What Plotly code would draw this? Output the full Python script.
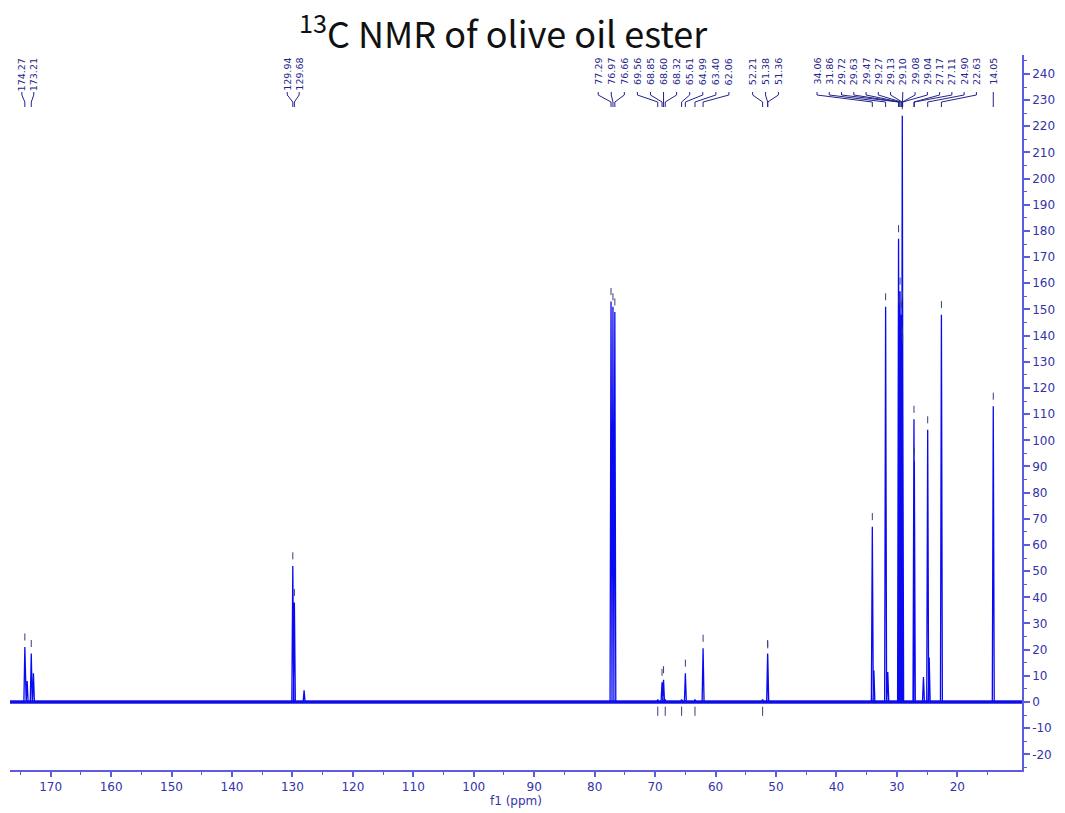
import plotly.graph_objects as go

# ---- peak table (ppm, intensity) ----
picked_ppm = [174.27, 173.21, 129.94, 129.68, 77.29, 76.97, 76.66,
              69.56, 68.85, 68.60, 68.32, 65.61, 64.99, 63.40, 62.06,
              52.21, 51.38, 51.36, 34.06, 31.86, 29.72, 29.63, 29.47,
              29.27, 29.13, 29.10, 29.08, 29.04, 27.17, 27.11, 24.90,
              22.63, 14.05]
picked_height = [21, 18.5, 52, 38, 153, 151, 149,
                 1, 7.5, 8.5, 1, 1, 11, 1, 20.5,
                 1, 18.5, 18, 67, 151, 177, 150, 157,
                 148, 138, 224, 152, 135, 108, 92, 104,
                 148, 113]

# smaller signals that were not picked
extra_ppm = [173.89, 172.85, 128.07, 33.80, 31.50, 25.60, 24.65]
extra_height = [8, 11, 4.5, 12, 11.5, 9.5, 17]

x_tick_values = list(range(20, 171, 10))
x_minor_values = list(range(15, 176, 10))
y_tick_values = list(range(-20, 241, 10))
y_minor_values = list(range(-25, 246, 10))

title_text = "<sup>13</sup>C NMR of olive oil ester"

# ---- page geometry (pixels) ----
W, H = 1065, 813
L, R, T, B = 10, 1032, 55, 770
PX_PER_PPM = 6.104
PX_PER_UNIT = 2.617
X_LEFT = 174.27 + (25 - L) / PX_PER_PPM
X_RIGHT = X_LEFT - (R - L) / PX_PER_PPM
Y0_PX = 702
Y_TOP = (Y0_PX - T) / PX_PER_UNIT
Y_BOT = (Y0_PX - B) / PX_PER_UNIT


def ppm_at(px):
    return X_LEFT - (px - L) / PX_PER_PPM


def val_at(py):
    return (Y0_PX - py) / PX_PER_UNIT


SPEC = "#0a0af0"
AXIS = "#5c5ce0"
TICKTXT = "#3333aa"
LABEL = "#23238a"
MARK = "#3c3c78"

# ---- spectrum drawn as narrow line shapes ----
peaks = sorted(zip(picked_ppm + extra_ppm, picked_height + extra_height),
               key=lambda t: -t[0])
hw = 0.16
sx, sy = [X_LEFT], [0]
for p, h in peaks:
    sx += [p + hw, p, p - hw]
    sy += [0, h, 0]
sx.append(X_RIGHT)
sy.append(0)

fig = go.Figure()

# baseline noise band
fig.add_trace(go.Scatter(x=[X_LEFT, X_RIGHT], y=[0, 0], mode="lines",
                         line=dict(color="#1a1ae0", width=3.5),
                         hoverinfo="skip"))
fig.add_trace(go.Scatter(x=sx, y=sy, mode="lines",
                         line=dict(color=SPEC, width=1.3),
                         hoverinfo="skip"))

# peak-pick markers
mx, my = [], []
for p, h in zip(picked_ppm, picked_height):
    if h >= 3:
        mx += [p, p, None]
        my += [h + 2.5, h + 5.2, None]
    else:
        mx += [p, p, None]
        my += [-1.8, -5.3, None]
fig.add_trace(go.Scatter(x=mx, y=my, mode="lines",
                         line=dict(color=MARK, width=1), hoverinfo="skip"))

# label groups: (first index, count, first label x px, spacing px)
groups = [(0, 2, 22, 12), (2, 2, 290, 12), (4, 11, 604, 13.2),
          (15, 3, 760, 13), (18, 14, 825, 12.38), (32, 1, 1003, 0)]

cx, cy = [], []
annotations = []
y_a, y_b, y_c, y_d = val_at(92), val_at(95), val_at(102), val_at(107)
for start, n, px0, step in groups:
    for k in range(n):
        i = start + k
        lx = ppm_at(px0 + k * step)
        p = picked_ppm[i]
        cx += [lx, lx, p, p, None]
        cy += [y_a, y_b, y_c, y_d, None]
        annotations.append(dict(
            x=lx, y=val_at(57), xref="x", yref="y",
            text=f"{p:.2f}", showarrow=False, textangle=-90,
            xanchor="center", yanchor="top", borderpad=0,
            font=dict(family="DejaVu Sans", size=9.5, color=LABEL)))

fig.add_trace(go.Scatter(x=cx, y=cy, mode="lines",
                         line=dict(color=LABEL, width=1), hoverinfo="skip"))

annotations.append(dict(
    x=(508 - L) / (R - L), y=(B - 31) / (B - T), xref="paper", yref="paper",
    text=title_text, showarrow=False, xanchor="center", yanchor="middle",
    font=dict(family="Noto Sans CJK KR", size=36, color="#111111")))

fig.update_layout(
    width=W, height=H,
    margin=dict(l=L, r=W - R, t=T, b=H - B, pad=0),
    paper_bgcolor="white", plot_bgcolor="white",
    showlegend=False, hovermode=False,
    annotations=annotations,
    xaxis=dict(
        range=[X_LEFT, X_RIGHT], showgrid=False, zeroline=False,
        showline=True, linecolor=AXIS, linewidth=1.5,
        ticks="outside", ticklen=5, tickwidth=1.5, tickcolor=AXIS,
        tickmode="array", tickvals=x_tick_values,
        ticktext=[str(v) for v in x_tick_values],
        tickfont=dict(family="DejaVu Sans", size=12, color=TICKTXT),
        minor=dict(tickvals=x_minor_values, ticks="outside", ticklen=3,
                   tickcolor=AXIS, tickwidth=1),
        title=dict(text="f1 (ppm)", standoff=0,
                   font=dict(family="DejaVu Sans", size=12, color=TICKTXT)),
    ),
    yaxis=dict(
        range=[Y_BOT, Y_TOP], side="right", showgrid=False, zeroline=False,
        showline=True, linecolor=AXIS, linewidth=1.5,
        ticks="outside", ticklen=6, tickwidth=1.5, tickcolor=AXIS,
        tickmode="array", tickvals=y_tick_values,
        ticktext=[str(v) for v in y_tick_values],
        tickfont=dict(family="DejaVu Sans", size=12, color=TICKTXT),
        minor=dict(tickvals=y_minor_values, ticks="outside", ticklen=3,
                   tickcolor=AXIS, tickwidth=1),
    ),
)

fig.write_html("out.html", config={"displayModeBar": False})
